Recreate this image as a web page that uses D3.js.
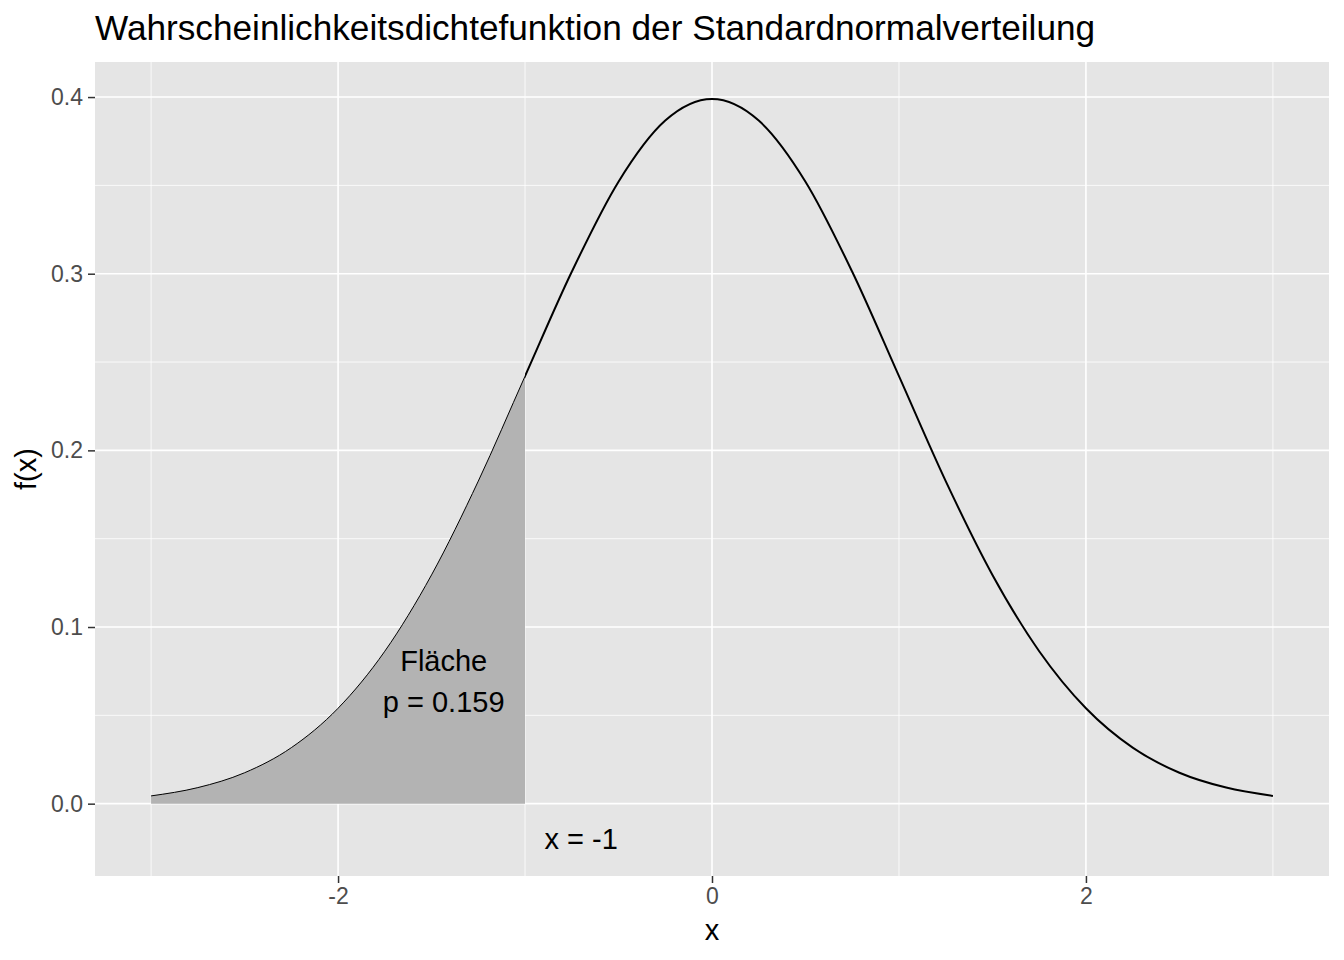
<!DOCTYPE html>
<html>
<head>
<meta charset="utf-8">
<script src="https://cdn.jsdelivr.net/npm/d3@7"></script>
<style>
  html, body { margin: 0; padding: 0; background: #ffffff; }
  svg { display: block; }
  text { font-family: "Liberation Sans", Arial, Helvetica, sans-serif; }
</style>
</head>
<body>
<svg id="chart" width="1344" height="960"></svg>
<script>
// ---- data ----
const xValues = [-3, -2.75, -2.5, -2.25, -2, -1.75, -1.5, -1.25, -1, -0.75, -0.5, -0.25, 0,
                 0.25, 0.5, 0.75, 1, 1.25, 1.5, 1.75, 2, 2.25, 2.5, 2.75, 3];
const densityValues = [0.0044, 0.0091, 0.0175, 0.0317, 0.0540, 0.0863, 0.1295, 0.1826, 0.2420,
                       0.3011, 0.3521, 0.3867, 0.3989, 0.3867, 0.3521, 0.3011, 0.2420, 0.1826,
                       0.1295, 0.0863, 0.0540, 0.0317, 0.0175, 0.0091, 0.0044];
const xTicks = [-2, 0, 2];
const xTickLabels = ["-2", "0", "2"];
const yTicks = [0.0, 0.1, 0.2, 0.3, 0.4];
const yTickLabels = ["0.0", "0.1", "0.2", "0.3", "0.4"];
const cutoff = -1;
const areaLabelLines = ["Fläche", "p = 0.159"];
const cutoffLabel = "x = -1";
const titleText = "Wahrscheinlichkeitsdichtefunktion der Standardnormalverteilung";

const points = xValues.map((x, i) => ({ x, y: densityValues[i] }));

// ---- layout ----
const svg = d3.select("#chart");
const panel = { left: 95, right: 1329, top: 62, bottom: 876 };

const xMin = -3, xMax = 3;
const xPad = (xMax - xMin) * 0.05;
const x = d3.scaleLinear().domain([xMin - xPad, xMax + xPad]).range([panel.left, panel.right]);

const yLow = -0.02, yHigh = d3.max(densityValues);
const yPad = (yHigh - yLow) * 0.05;
const y = d3.scaleLinear().domain([yLow - yPad, yHigh + yPad]).range([panel.bottom, panel.top]);

// panel background
svg.append("rect")
  .attr("x", panel.left).attr("y", panel.top)
  .attr("width", panel.right - panel.left).attr("height", panel.bottom - panel.top)
  .attr("fill", "#E5E5E5");

const grid = svg.append("g");
// minor grid
const xMinor = [-3, -1, 1, 3];
const yMinor = [0.05, 0.15, 0.25, 0.35];
grid.selectAll(".xminor").data(xMinor).enter().append("line")
  .attr("x1", d => x(d)).attr("x2", d => x(d))
  .attr("y1", panel.top).attr("y2", panel.bottom)
  .attr("stroke", "#ffffff").attr("stroke-width", 0.8);
grid.selectAll(".yminor").data(yMinor).enter().append("line")
  .attr("y1", d => y(d)).attr("y2", d => y(d))
  .attr("x1", panel.left).attr("x2", panel.right)
  .attr("stroke", "#ffffff").attr("stroke-width", 0.8);
// major grid
grid.selectAll(".xmajor").data(xTicks).enter().append("line")
  .attr("x1", d => x(d)).attr("x2", d => x(d))
  .attr("y1", panel.top).attr("y2", panel.bottom)
  .attr("stroke", "#ffffff").attr("stroke-width", 1.6);
grid.selectAll(".ymajor").data(yTicks).enter().append("line")
  .attr("y1", d => y(d)).attr("y2", d => y(d))
  .attr("x1", panel.left).attr("x2", panel.right)
  .attr("stroke", "#ffffff").attr("stroke-width", 1.6);

// clip paths
const defs = svg.append("defs");
defs.append("clipPath").attr("id", "leftClip").append("rect")
  .attr("x", x(xMin)).attr("y", panel.top)
  .attr("width", x(cutoff) - x(xMin)).attr("height", panel.bottom - panel.top);
defs.append("clipPath").attr("id", "rightClip").append("rect")
  .attr("x", x(cutoff)).attr("y", panel.top - 5)
  .attr("width", panel.right - x(cutoff)).attr("height", panel.bottom - panel.top + 10);

const curve = d3.curveMonotoneX;
const area = d3.area().x(d => x(d.x)).y0(y(0)).y1(d => y(d.y)).curve(curve);
const line = d3.line().x(d => x(d.x)).y(d => y(d.y)).curve(curve);

svg.append("path").datum(points)
  .attr("d", area).attr("fill", "#B3B3B3")
  .attr("clip-path", "url(#leftClip)");
svg.append("path").datum(points)
  .attr("d", line).attr("fill", "none").attr("stroke", "#000").attr("stroke-width", 1)
  .attr("clip-path", "url(#leftClip)");
svg.append("path").datum(points)
  .attr("d", line).attr("fill", "none").attr("stroke", "#000").attr("stroke-width", 2)
  .attr("clip-path", "url(#rightClip)");

// annotations
const areaLabel = svg.append("text")
  .attr("text-anchor", "middle").attr("font-size", 29).attr("fill", "#000");
areaLabel.selectAll("tspan").data(areaLabelLines).enter().append("tspan")
  .attr("x", x(-1.435))
  .attr("y", (d, i) => y(0.0695) + (i - 0.5) * 41)
  .attr("dy", "0.35em")
  .text(d => d);

svg.append("text")
  .attr("x", x(-0.7)).attr("y", y(yLow)).attr("dy", "0.35em")
  .attr("text-anchor", "middle").attr("font-size", 29).attr("fill", "#000")
  .text(cutoffLabel);

// axes
const xAxis = d3.axisBottom(x).tickValues(xTicks).tickFormat((d, i) => xTickLabels[i])
  .tickSize(7).tickPadding(5);
const gx = svg.append("g").attr("transform", `translate(0,${panel.bottom})`).call(xAxis);
gx.select(".domain").remove();
gx.selectAll(".tick line").attr("stroke", "#333333").attr("stroke-width", 1.5);
gx.selectAll(".tick text").attr("fill", "#4D4D4D").attr("font-size", 23)
  .attr("font-family", "Liberation Sans, Arial, sans-serif");

const yAxis = d3.axisLeft(y).tickValues(yTicks).tickFormat((d, i) => yTickLabels[i])
  .tickSize(7).tickPadding(5);
const gy = svg.append("g").attr("transform", `translate(${panel.left},0)`).call(yAxis);
gy.select(".domain").remove();
gy.selectAll(".tick line").attr("stroke", "#333333").attr("stroke-width", 1.5);
gy.selectAll(".tick text").attr("fill", "#4D4D4D").attr("font-size", 23)
  .attr("font-family", "Liberation Sans, Arial, sans-serif");

// titles
svg.append("text")
  .attr("x", panel.left).attr("y", 39.5)
  .attr("font-size", 35.2).attr("fill", "#000")
  .text(titleText);

svg.append("text")
  .attr("x", (panel.left + panel.right) / 2).attr("y", 940)
  .attr("text-anchor", "middle").attr("font-size", 29).attr("fill", "#000")
  .text("x");

svg.append("text")
  .attr("transform", `translate(36,${(panel.top + panel.bottom) / 2}) rotate(-90)`)
  .attr("text-anchor", "middle").attr("font-size", 29).attr("fill", "#000")
  .text("f(x)");
</script>
</body>
</html>
